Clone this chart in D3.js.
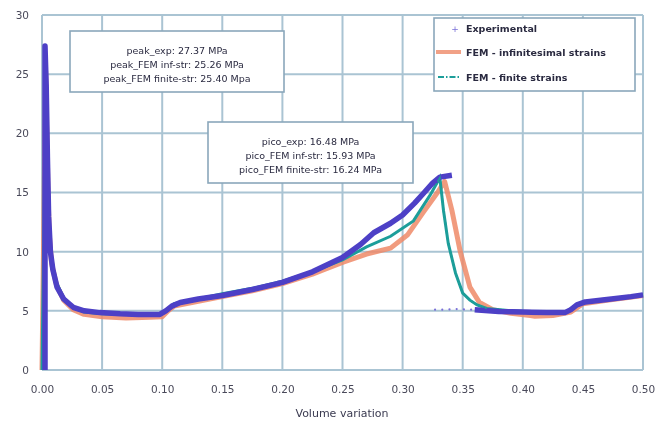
<!DOCTYPE html>
<html>
<head>
<meta charset="utf-8">
<script src="https://cdn.jsdelivr.net/npm/d3@7/dist/d3.min.js"></script>
<style>
  body { margin: 0; background: #fff; }
  svg { display: block; }
  .tick text { font-family: "DejaVu Sans", Verdana, sans-serif; font-size: 10.5px; fill: #4a4a5a; }
</style>
</head>
<body>
<div id="chart"></div>
<script>
// ---- data ----
var xTicks = [0, 0.05, 0.10, 0.15, 0.20, 0.25, 0.30, 0.35, 0.40, 0.45, 0.50];
var yTicks = [0, 5, 10, 15, 20, 25, 30];

// experimental, loading + first cycle
var expX1 = [0.0025, 0.0025, 0.0035, 0.0045, 0.0055, 0.007, 0.009, 0.0125, 0.018, 0.026, 0.035, 0.048, 0.065, 0.08, 0.098, 0.103, 0.108, 0.115, 0.13, 0.15, 0.175, 0.20, 0.225, 0.25, 0.265, 0.276, 0.29, 0.30, 0.31, 0.318, 0.325, 0.331, 0.341];
var expY1 = [0, 27.37, 24, 18, 13, 10, 8.5, 7.0, 6.0, 5.3, 5.0, 4.85, 4.75, 4.7, 4.7, 5.0, 5.4, 5.7, 6.0, 6.3, 6.8, 7.4, 8.3, 9.5, 10.6, 11.6, 12.4, 13.1, 14.1, 15.0, 15.8, 16.3, 16.45];
// experimental, sparse points during the unload
var expX2 = [0.327, 0.333, 0.339, 0.345, 0.351, 0.357];
var expY2 = [5.1, 5.1, 5.12, 5.15, 5.12, 5.1];
// experimental, second cycle
var expX3 = [0.36, 0.38, 0.40, 0.42, 0.435, 0.44, 0.445, 0.452, 0.47, 0.49, 0.50];
var expY3 = [5.1, 4.95, 4.9, 4.85, 4.85, 5.1, 5.5, 5.75, 5.95, 6.2, 6.35];

var infX = [0, 0.0015, 0.003, 0.004, 0.005, 0.006, 0.008, 0.012, 0.018, 0.026, 0.035, 0.05, 0.07, 0.09, 0.10, 0.105, 0.11, 0.13, 0.15, 0.175, 0.20, 0.225, 0.25, 0.27, 0.29, 0.304, 0.317, 0.329, 0.335, 0.341, 0.348, 0.356, 0.364, 0.375, 0.39, 0.41, 0.425, 0.44, 0.45, 0.47, 0.50];
var infY = [0, 12, 25.26, 20, 15, 11.5, 9, 7.2, 5.9, 5.1, 4.7, 4.5, 4.4, 4.45, 4.5, 5.0, 5.4, 5.8, 6.2, 6.7, 7.3, 8.1, 9.1, 9.8, 10.3, 11.4, 13.3, 15.0, 15.93, 13.5, 10, 7.0, 5.7, 5.1, 4.8, 4.55, 4.6, 4.9, 5.6, 5.9, 6.3];

var finX = [0, 0.0015, 0.003, 0.004, 0.005, 0.006, 0.008, 0.012, 0.018, 0.026, 0.035, 0.05, 0.07, 0.09, 0.10, 0.105, 0.11, 0.13, 0.15, 0.175, 0.20, 0.225, 0.25, 0.27, 0.29, 0.309, 0.323, 0.331, 0.334, 0.338, 0.344, 0.35, 0.356, 0.362, 0.37, 0.39, 0.41, 0.435, 0.445, 0.455, 0.50];
var finY = [0, 12, 25.4, 20, 15, 11.8, 9.2, 7.4, 6.1, 5.3, 4.9, 4.75, 4.7, 4.7, 4.75, 5.2, 5.6, 6.0, 6.45, 6.9, 7.5, 8.3, 9.3, 10.4, 11.3, 12.6, 14.8, 16.24, 13.5, 10.7, 8.2, 6.5, 5.9, 5.5, 5.2, 5.0, 4.9, 4.85, 5.5, 5.8, 6.35];

var legendLabels = ["Experimental", "FEM - infinitesimal strains", "FEM - finite strains"];
var peakText = ["peak_exp: 27.37 MPa", "peak_FEM inf-str: 25.26 MPa", "peak_FEM finite-str: 25.40 Mpa"];
var picoText = ["pico_exp: 16.48 MPa", "pico_FEM inf-str: 15.93 MPa", "pico_FEM finite-str: 16.24 MPa"];

// ---- layout ----
var W = 669, H = 428;
var m = {top: 15, left: 42, right: 26, bottom: 58};
var font = '"DejaVu Sans", Verdana, sans-serif';
var gridCol = "#aac4d3", txtCol = "#3a3a50";

var svg = d3.select("#chart").append("svg")
  .attr("width", W).attr("height", H);

var defs = svg.append("defs");
defs.append("filter").attr("id", "soft")
  .append("feGaussianBlur").attr("stdDeviation", 0.6);

var g = svg.append("g").attr("filter", "url(#soft)");

var x = d3.scaleLinear().domain([0, 0.5]).range([m.left, W - m.right]);
var y = d3.scaleLinear().domain([0, 30]).range([H - m.bottom, m.top]);

// grid
g.append("g")
  .selectAll("line.v").data(xTicks).enter().append("line")
  .attr("x1", function(d){ return x(d); }).attr("x2", function(d){ return x(d); })
  .attr("y1", y(0)).attr("y2", y(30))
  .attr("stroke", gridCol).attr("stroke-width", 2);
g.append("g")
  .selectAll("line.h").data(yTicks).enter().append("line")
  .attr("x1", x(0)).attr("x2", x(0.5))
  .attr("y1", function(d){ return y(d); }).attr("y2", function(d){ return y(d); })
  .attr("stroke", gridCol).attr("stroke-width", 2);

// axes (labels only)
var xAxis = d3.axisBottom(x).tickValues(xTicks).tickFormat(d3.format(".2f")).tickSize(0).tickPadding(16);
var yAxis = d3.axisLeft(y).tickValues(yTicks).tickFormat(d3.format("d")).tickSize(0).tickPadding(13);
var gx = g.append("g").attr("transform", "translate(0," + y(0) + ")").call(xAxis);
var gy = g.append("g").attr("transform", "translate(" + x(0) + ",0)").call(yAxis);
gx.select(".domain").remove();
gy.select(".domain").remove();

g.append("text")
  .attr("x", 342).attr("y", 417)
  .attr("text-anchor", "middle")
  .style("font-family", font).style("font-size", "11px").attr("fill", txtCol)
  .text("Volume variation");

function zip(xs, ys){ return xs.map(function(v, i){ return [v, ys[i]]; }); }
var line = d3.line().x(function(d){ return x(d[0]); }).y(function(d){ return y(d[1]); });

var curves = g.append("g");
curves.append("path").datum(zip(infX, infY))
  .attr("d", line).attr("fill", "none")
  .attr("stroke", "#ee8a68").attr("stroke-opacity", 0.85)
  .attr("stroke-width", 5).attr("stroke-linejoin", "round");
curves.append("path").datum(zip(finX, finY))
  .attr("d", line).attr("fill", "none")
  .attr("stroke", "#1f9e9a").attr("stroke-width", 3);
[zip(expX1, expY1), zip(expX3, expY3)].forEach(function(seg){
  curves.append("path").datum(seg)
    .attr("d", line).attr("fill", "none")
    .attr("stroke", "#4d3fc6").attr("stroke-width", 5.5)
    .attr("stroke-linejoin", "round");
});
curves.append("g").selectAll("circle").data(zip(expX2, expY2)).enter().append("circle")
  .attr("cx", function(d){ return x(d[0]); }).attr("cy", function(d){ return y(d[1]); })
  .attr("r", 1.1).attr("fill", "#7a70d8");
// finite strains dash-dot on top in the unloading branch
curves.append("path").datum(zip(finX, finY).filter(function(d){ return d[0] >= 0.30 && d[0] <= 0.37; }))
  .attr("d", line).attr("fill", "none")
  .attr("stroke", "#1f9e9a").attr("stroke-width", 1.8)
  .attr("stroke-dasharray", "6,2,1.5,2");

// annotation boxes
function noteBox(x0, y0, w, h, lines){
  var b = g.append("g");
  b.append("rect").attr("x", x0).attr("y", y0).attr("width", w).attr("height", h)
    .attr("fill", "#fff").attr("stroke", "#8aa7bb").attr("stroke-width", 1.6);
  b.selectAll("text").data(lines).enter().append("text")
    .attr("x", x0 + w / 2).attr("y", function(d, i){ return y0 + 23 + i * 14; })
    .attr("text-anchor", "middle")
    .style("font-family", font).style("font-size", "9.5px").attr("fill", "#2a2a40")
    .text(function(d){ return d; });
}
noteBox(70, 31, 214, 61, peakText);
noteBox(208, 122, 205, 61, picoText);

// legend
var lg = g.append("g");
lg.append("rect").attr("x", 434).attr("y", 18).attr("width", 201).attr("height", 73)
  .attr("fill", "#fff").attr("stroke", "#8aa7bb").attr("stroke-width", 1.6);
var ly = [28, 52, 77];
lg.selectAll("text").data(legendLabels).enter().append("text")
  .attr("x", 466).attr("y", function(d, i){ return ly[i] + 3.5; })
  .style("font-family", font).style("font-size", "9.5px").style("font-weight", "bold")
  .attr("fill", "#2a2a40")
  .text(function(d){ return d; });
lg.append("text").attr("x", 455).attr("y", ly[0] + 3.5).attr("text-anchor", "middle")
  .style("font-family", font).style("font-size", "9px").attr("fill", "#7a70d8").text("+");
lg.append("line").attr("x1", 436).attr("x2", 461).attr("y1", ly[1]).attr("y2", ly[1])
  .attr("stroke", "#ee8a68").attr("stroke-width", 4).attr("stroke-opacity", 0.8);
lg.append("line").attr("x1", 438).attr("x2", 461).attr("y1", ly[2]).attr("y2", ly[2])
  .attr("stroke", "#1f9e9a").attr("stroke-width", 1.8).attr("stroke-dasharray", "6,2,1.5,2");
</script>
</body>
</html>
